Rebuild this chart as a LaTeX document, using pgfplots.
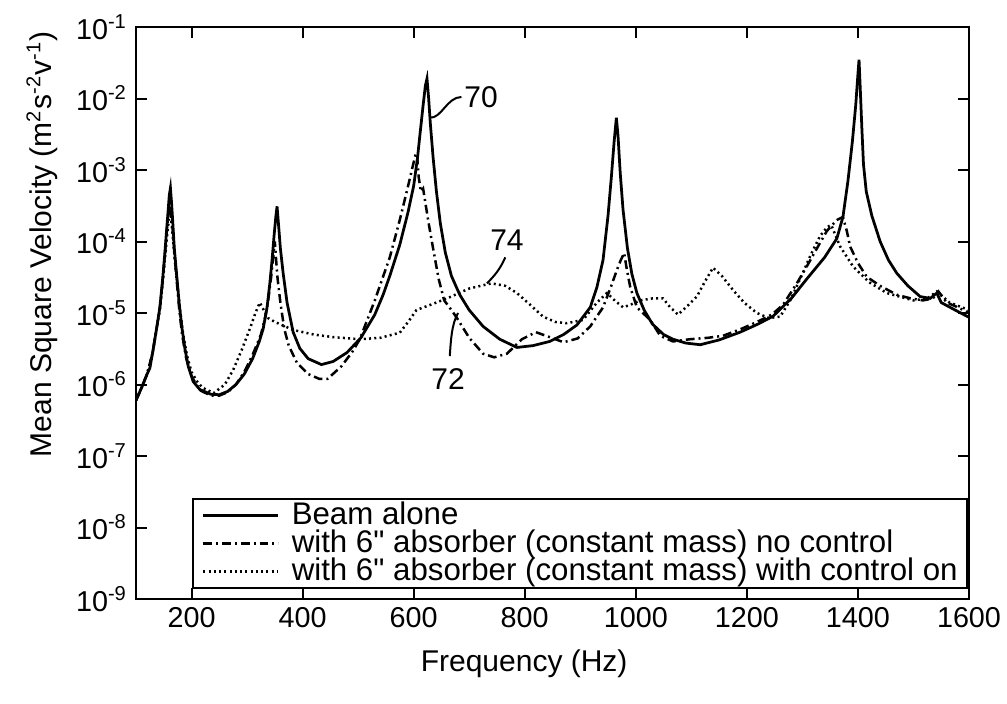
\documentclass[border=0pt]{standalone}
\usepackage{fontspec}
\setmainfont{Liberation Sans}
\newfontfamily\plainq{Liberation Sans}[Ligatures=TeXOff]
\usepackage{pgfplots}
\pgfplotsset{compat=1.18}

\newcommand{\inch}{{\plainq"}}

\begin{document}
\begin{tikzpicture}
\path[use as bounding box] (-54.4pt,-42pt) rectangle (348.4pt,239.6pt);
\begin{axis}[
    at={(0pt,0pt)}, anchor=south west,
    scale only axis,
    width=333.2pt, height=228.8pt,
    xmin=100, xmax=1600,
    ymode=log, ymin=1e-9, ymax=1e-1,
    xtick={200,400,...,1600},
    xticklabels={200,400,600,800,1000,1200,1400,1600},
    ytick={1e-9,1e-8,1e-7,1e-6,1e-5,1e-4,1e-3,1e-2,1e-1},
    yticklabels={10\textsuperscript{-9},10\textsuperscript{-8},10\textsuperscript{-7},10\textsuperscript{-6},10\textsuperscript{-5},10\textsuperscript{-4},10\textsuperscript{-3},10\textsuperscript{-2},10\textsuperscript{-1}},
    yminorticks=false,
    tick align=inside,
    major tick length=4.5pt,
    every tick/.style={black, line width=0.8pt},
    axis line style={line width=1pt},
    tick label style={font=\fontsize{11.5}{13}\selectfont},
    xlabel={Frequency (Hz)},
    ylabel={Mean Square Velocity (m\textsuperscript{2}s\textsuperscript{-2}v\textsuperscript{-1})},
    label style={font=\fontsize{12}{14}\selectfont},
    xlabel style={at={(rel axis cs:0.466,-0.113)}, anchor=center},
    ylabel style={at={(rel axis cs:-0.113,0.62)}, anchor=center},
    legend cell align=left,
    legend image code/.code={\draw[#1] (0pt,0pt) -- (30pt,0pt);},
    legend style={at={(0.999,0.018)}, anchor=south east,
        font=\fontsize{12.5}{13.5}\selectfont, draw=black, line width=0.8pt,
        inner xsep=3.5pt, inner ysep=1pt, row sep=0pt, nodes={inner sep=0.3pt},
        /tikz/every odd column/.append style={column sep=4.5pt}},
]
% Beam alone
\addplot[black, line width=1.1pt] coordinates {
(100,6e-7) (110,9e-7) (120,1.4e-6) (125,1.7e-6) (130,2.8e-6) (137,6e-6)
(143,1.2e-5) (148,3e-5) (152,7e-5) (155,1.4e-4) (158,2.8e-4) (160,4.5e-4)
(162,5.6e-4) (164,3.5e-4) (166,2e-4) (169,8e-5) (173,3.6e-5) (178,1.3e-5)
(183,6e-6) (188,3.2e-6) (194,1.8e-6) (203,1.1e-6) (215,8.5e-7) (235,7.3e-7)
(250,7.2e-7) (265,8e-7) (280,1e-6) (295,1.4e-6) (310,2.3e-6) (322,4e-6)
(329,6e-6) (336,1.2e-5) (341,2.6e-5) (345,5.5e-5) (349,1.3e-4) (352,2.3e-4)
(354,3.1e-4) (357,1.6e-4) (360,8e-5) (365,3.6e-5) (372,1.4e-5) (383,5.4e-6)
(395,3.2e-6) (410,2.3e-6) (434,1.9e-6) (455,2.1e-6) (480,2.8e-6) (505,4.5e-6)
(530,9.5e-6) (545,1.8e-5) (557,3.3e-5) (575,9e-5) (590,2.6e-4) (600,6e-4)
(607,1.5e-3) (612,3.5e-3) (617,8e-3) (621,1.5e-2) (624,1.9e-2) (627,1e-2)
(630,4.5e-3) (635,1.5e-3) (641,5e-4) (648,1.8e-4) (657,7e-5) (668,3.3e-5)
(683,1.8e-5) (700,1.1e-5) (725,6.5e-6) (755,4.3e-6) (786,3.3e-6) (815,3.5e-6)
(845,4e-6) (870,5e-6) (894,6.8e-6) (918,1.2e-5) (930,2.3e-5) (941,5.5e-5)
(950,2.3e-4) (956,8e-4) (961,2.5e-3) (965,5.4e-3) (968,3e-3) (972,9e-4)
(977,2.8e-4) (985,8e-5) (993,3.5e-5) (1002,1.9e-5) (1015,1.1e-5) (1030,7e-6)
(1050,5e-6) (1067,4.3e-6) (1090,3.8e-6) (1116,3.6e-6) (1150,4.2e-6) (1188,5.4e-6)
(1220,7e-6) (1247,9e-6) (1280,1.6e-5) (1308,3e-5) (1340,6e-5) (1362,1.1e-4)
(1373,2.2e-4) (1382,7e-4) (1390,2.5e-3) (1396,8e-3) (1400,2.2e-2) (1402,3.5e-2)
(1404,1.5e-2) (1407,4e-3) (1410,1.2e-3) (1415,5e-4) (1425,2.3e-4) (1440,1e-4)
(1455,5.5e-5) (1470,3.6e-5) (1490,2.4e-5) (1512,1.7e-5) (1530,1.6e-5) (1542,1.9e-5)
(1550,1.4e-5) (1575,1.1e-5) (1600,8.7e-6)
};
\addlegendentry{Beam alone}
% with 6" absorber, no control
\addplot[black, line width=1pt, dash pattern=on 3.5pt off 1.6pt on 0.8pt off 1.6pt] coordinates {
(100,6e-7) (110,9e-7) (120,1.4e-6) (130,2.8e-6) (137,6e-6) (143,1.2e-5)
(148,2.8e-5) (152,6.5e-5) (156,1.6e-4) (159,2.8e-4) (161,3.5e-4) (163,2.6e-4)
(166,1.5e-4) (169,7e-5) (173,3e-5) (178,1.1e-5) (183,5e-6) (190,2.4e-6)
(200,1.3e-6) (215,8.3e-7) (235,7e-7) (250,7e-7) (265,7.8e-7) (280,1e-6)
(295,1.5e-6) (310,2.6e-6) (325,5e-6) (333,9e-6) (338,1.5e-5) (343,3e-5)
(347,6e-5) (350,1e-4) (352,6e-5) (355,3e-5) (360,1.4e-5) (367,6e-6)
(375,3.5e-6) (390,2e-6) (410,1.4e-6) (430,1.2e-6) (445,1.2e-6) (470,1.8e-6)
(490,2.9e-6) (503,4.3e-6) (530,1.5e-5) (557,6e-5) (575,2e-4) (590,6e-4)
(598,1.1e-3) (603,1.6e-3) (606,1.7e-3) (609,8e-4) (613,5e-4) (617,5.5e-4)
(621,3.5e-4) (627,1.8e-4) (635,8e-5) (645,3e-5) (655,1.5e-5) (668,1.1e-5)
(678,8.5e-6) (700,4.5e-6) (725,2.7e-6) (745,2.4e-6) (768,2.7e-6) (795,4.3e-6)
(820,5.4e-6) (845,4.6e-6) (870,3.9e-6) (895,4.4e-6) (918,6.5e-6) (941,1.2e-5)
(955,2.3e-5) (966,4e-5) (973,5.5e-5) (979,6.9e-5) (984,4e-5) (990,2.3e-5)
(1002,1.2e-5) (1026,8e-6) (1044,4.8e-6) (1067,4e-6) (1098,4.3e-6) (1130,4.5e-6)
(1157,4.8e-6) (1190,6e-6) (1218,7.5e-6) (1245,9.5e-6) (1265,1.3e-5) (1290,2.6e-5)
(1308,4.5e-5) (1328,8.5e-5) (1344,1.4e-4) (1362,2e-4) (1373,2.2e-4) (1380,1.4e-4)
(1386,8.5e-5) (1400,5e-5) (1416,3.2e-5) (1440,2.4e-5) (1470,1.8e-5) (1495,1.6e-5)
(1517,1.5e-5) (1535,1.6e-5) (1545,2e-5) (1560,1.4e-5) (1580,1.2e-5) (1600,1e-5)
};
\addlegendentry{ with 6\inch{} absorber (constant mass) no control}
% with 6" absorber, control on
\addplot[black, line width=1pt, dash pattern=on 0.8pt off 1.3pt] coordinates {
(100,6e-7) (110,9e-7) (120,1.4e-6) (130,2.8e-6) (137,6e-6) (143,1.1e-5)
(148,2.6e-5) (152,5.5e-5) (156,1.2e-4) (159,2e-4) (162,2.5e-4) (164,1.8e-4)
(167,1e-4) (171,4.5e-5) (175,2.3e-5) (180,1e-5) (185,5e-6) (192,2.5e-6)
(200,1.5e-6) (210,1.1e-6) (220,9e-7) (240,7.6e-7) (260,1e-6) (275,1.6e-6)
(290,3e-6) (305,6e-6) (315,1e-5) (323,1.4e-5) (330,1.1e-5) (338,8.5e-6)
(350,7.5e-6) (383,5.8e-6) (420,5e-6) (455,4.6e-6) (503,4.3e-6) (540,4.5e-6)
(575,5.3e-6) (590,7.5e-6) (605,1.1e-5) (630,1.3e-5) (660,1.6e-5) (700,2.2e-5)
(740,2.6e-5) (765,2.4e-5) (786,1.9e-5) (810,1.3e-5) (833,8.9e-6) (855,7.5e-6)
(876,7.2e-6) (905,8e-6) (930,1.4e-5) (948,1.9e-5) (962,1.5e-5) (977,1.2e-5)
(990,1.3e-5) (1008,1.5e-5) (1030,1.6e-5) (1049,1.6e-5) (1062,1.2e-5) (1076,9.5e-6)
(1095,1.3e-5) (1110,1.7e-5) (1125,2.8e-5) (1139,4.3e-5) (1155,3.3e-5) (1175,2.1e-5)
(1195,1.4e-5) (1218,1e-5) (1240,8.5e-6) (1260,8.9e-6) (1278,1.5e-5) (1296,3e-5)
(1315,6.5e-5) (1332,1.2e-4) (1345,1.6e-4) (1352,1.7e-4) (1360,1.2e-4) (1368,8.5e-5)
(1391,4.5e-5) (1420,2.7e-5) (1452,1.9e-5) (1500,1.5e-5) (1525,1.6e-5) (1542,2e-5)
(1565,1.4e-5) (1600,1.1e-5)
};
\addlegendentry{ with 6\inch{} absorber (constant mass) with control on}

% reference numerals
\draw[line width=0.8pt] (629,5.4e-3) .. controls (650,5.2e-3) and (660,1.05e-2) .. (686,1.05e-2);
\node[anchor=west, font=\fontsize{12}{14}\selectfont, inner sep=1pt] at (686,1.05e-2) {70};
\draw[line width=0.8pt] (732,2.6e-5) .. controls (745,3.3e-5) and (755,4e-5) .. (765,6e-5);
\node[font=\fontsize{12}{14}\selectfont] at (768,1.05e-4) {74};
\draw[line width=0.8pt] (680,1e-5) .. controls (668,7e-6) and (667,4e-6) .. (665,2.5e-6);
\node[font=\fontsize{12}{14}\selectfont] at (662,1.2e-6) {72};
\end{axis}
\end{tikzpicture}
\end{document}
